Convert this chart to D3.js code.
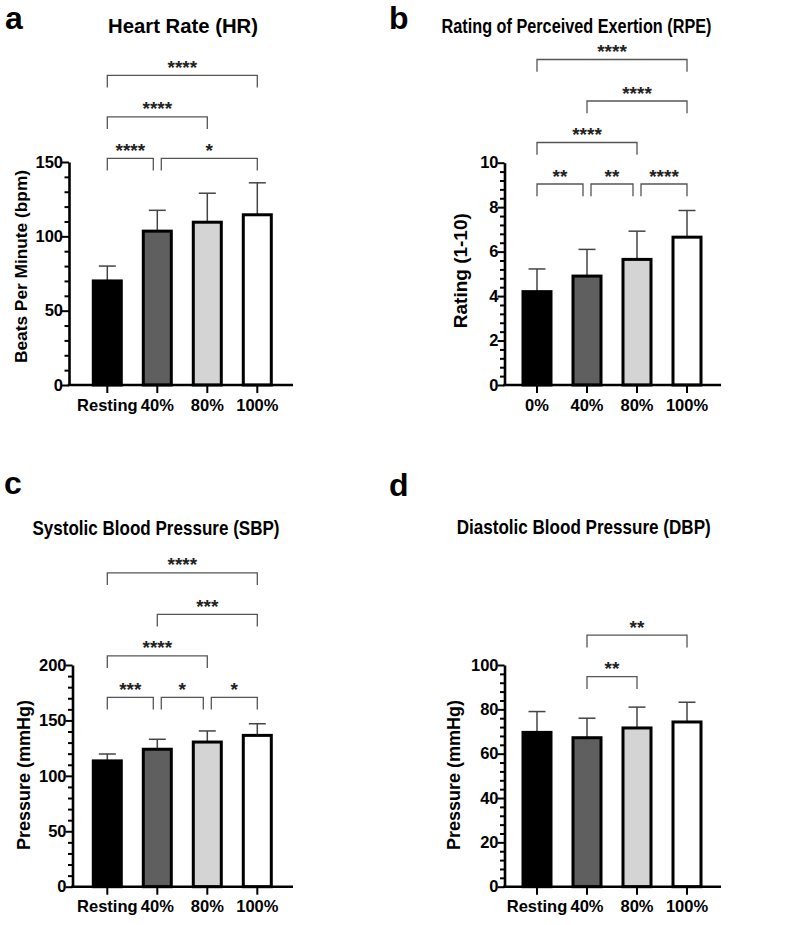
<!DOCTYPE html>
<html><head><meta charset="utf-8">
<script src="https://cdn.jsdelivr.net/npm/d3@7"></script>
<style>
body{margin:0;background:#fff}
svg{display:block}
text{font-family:"Liberation Sans",Arial,Helvetica,sans-serif;font-weight:bold;fill:#000}
</style>
</head><body>
<svg id="chart" width="792" height="925"></svg>
<script>
// ---------- DATA ----------
const hrCategories = ["Resting", "40%", "80%", "100%"];
const hrMeans = [70, 103.5, 109.5, 114.5];
const hrSD = [10, 14, 19.5, 21.5];
const hrTicks = [0, 50, 100, 150];
const hrComparisons = [["Resting", "40%", "****", 0], ["40%", "100%", "*", 0], ["Resting", "80%", "****", 1], ["Resting", "100%", "****", 2]];

const rpeCategories = ["0%", "40%", "80%", "100%"];
const rpeMeans = [4.2, 4.9, 5.65, 6.65];
const rpeSD = [1.02, 1.2, 1.27, 1.2];
const rpeTicks = [0, 2, 4, 6, 8, 10];
const rpeComparisons = [["0%", "40%", "**", 0], ["40%", "80%", "**", 0], ["80%", "100%", "****", 0], ["0%", "80%", "****", 1], ["40%", "100%", "****", 2], ["0%", "100%", "****", 3]];

const sbpCategories = ["Resting", "40%", "80%", "100%"];
const sbpMeans = [113.5, 124, 130.5, 136.5];
const sbpSD = [6.2, 9, 10, 10.5];
const sbpTicks = [0, 50, 100, 150, 200];
const sbpComparisons = [["Resting", "40%", "***", 0], ["40%", "80%", "*", 0], ["80%", "100%", "*", 0], ["Resting", "80%", "****", 1], ["40%", "100%", "***", 2], ["Resting", "100%", "****", 3]];

const dbpCategories = ["Resting", "40%", "80%", "100%"];
const dbpMeans = [69.6, 67.2, 71.6, 74.3];
const dbpSD = [9.4, 8.8, 9.4, 8.9];
const dbpTicks = [0, 20, 40, 60, 80, 100];
const dbpComparisons = [["40%", "80%", "**", 0], ["40%", "100%", "**", 1]];

const barFills = ["#000000", "#5f5f5f", "#d4d4d4", "#ffffff"];
const panelLetters = ["a", "b", "c", "d"];
const panelTitles = ["Heart Rate (HR)", "Rating of Perceived Exertion (RPE)", "Systolic Blood Pressure (SBP)", "Diastolic Blood Pressure (DBP)"];
const yTitles = ["Beats Per Minute (bpm)", "Rating (1-10)", "Pressure (mmHg)", "Pressure (mmHg)"];

// ---------- LAYOUT ----------
const panels = [
  {cats: hrCategories, means: hrMeans, sd: hrSD, ticks: hrTicks, minor: 10, comps: hrComparisons,
   axisX: 69, axisRight: 293, firstC: 107.3, yTop: 162, yBot: 385, bracket0: 158.3,
   letter: {x: 5, y: 29}, title: {x: 108, y: 32.5, len: 150}, ytitle: {x: 27, y: 266.5, len: 193, size: 17}},
  {cats: rpeCategories, means: rpeMeans, sd: rpeSD, ticks: rpeTicks, minor: 0.4, comps: rpeComparisons,
   axisX: 504.5, axisRight: 721, firstC: 537, yTop: 162.7, yBot: 385, bracket0: 184,
   letter: {x: 389, y: 29}, title: {x: 441.5, y: 33.3, len: 270}, ytitle: {x: 467, y: 270.7, len: 115, size: 19}},
  {cats: sbpCategories, means: sbpMeans, sd: sbpSD, ticks: sbpTicks, minor: 10, comps: sbpComparisons,
   axisX: 72.5, axisRight: 293, firstC: 107.3, yTop: 665, yBot: 886.7, bracket0: 697.3,
   letter: {x: 4, y: 494}, title: {x: 32.5, y: 535, len: 247}, ytitle: {x: 29.5, y: 775, len: 150, size: 18}},
  {cats: dbpCategories, means: dbpMeans, sd: dbpSD, ticks: dbpTicks, minor: 4, comps: dbpComparisons,
   axisX: 504.5, axisRight: 721, firstC: 537, yTop: 665, yBot: 886.7, bracket0: 676.7,
   letter: {x: 389, y: 496}, title: {x: 456.7, y: 534, len: 254}, ytitle: {x: 459.5, y: 775, len: 150, size: 18}}
];

const svg = d3.select("#chart");
const STEP = 50, LEVEL_GAP = 41.5, DROP = 12.3, SHARE_OFF = 4;

panels.forEach((p, pi) => {
  const g = svg.append("g");
  const maxV = p.ticks[p.ticks.length - 1];
  const y = d3.scaleLinear().domain([0, maxV]).range([p.yBot, p.yTop]);
  const x = d3.scaleBand().domain(p.cats)
    .range([p.firstC - STEP / 2, p.firstC - STEP / 2 + STEP * p.cats.length])
    .paddingInner(0.44).paddingOuter(0.22);
  const cx = c => x(c) + x.bandwidth() / 2;

  // panel letter and title
  g.append("text").attr("x", p.letter.x).attr("y", p.letter.y)
    .style("font-size", "32px").text(panelLetters[pi]);
  g.append("text").attr("x", p.title.x).attr("y", p.title.y)
    .style("font-size", "21px").attr("textLength", p.title.len).attr("lengthAdjust", "spacingAndGlyphs")
    .text(panelTitles[pi]);
  g.append("text").attr("transform", `translate(${p.ytitle.x},${p.ytitle.y}) rotate(-90)`)
    .attr("text-anchor", "middle").style("font-size", p.ytitle.size + "px")
    .attr("textLength", p.ytitle.len).attr("lengthAdjust", "spacingAndGlyphs")
    .text(yTitles[pi]);

  // error bars
  const data = p.cats.map((c, i) => ({c, m: p.means[i], s: p.sd[i], fill: barFills[i]}));
  const eb = g.append("g").attr("stroke", "#444").attr("stroke-width", 1.5).attr("fill", "none");
  eb.selectAll(".stem").data(data).join("line")
    .attr("x1", d => cx(d.c)).attr("x2", d => cx(d.c))
    .attr("y1", d => y(d.m)).attr("y2", d => y(d.m + d.s));
  eb.selectAll(".cap").data(data).join("line")
    .attr("x1", d => cx(d.c) - 8.5).attr("x2", d => cx(d.c) + 8.5)
    .attr("y1", d => y(d.m + d.s)).attr("y2", d => y(d.m + d.s));

  // bars
  g.append("g").selectAll("rect").data(data).join("rect")
    .attr("x", d => x(d.c)).attr("width", x.bandwidth())
    .attr("y", d => y(d.m)).attr("height", d => y(0) - y(d.m))
    .attr("fill", d => d.fill).attr("stroke", "#000").attr("stroke-width", 3);

  // y axis major
  const yAx = g.append("g").attr("transform", `translate(${p.axisX},0)`)
    .call(d3.axisLeft(y).tickValues(p.ticks).tickSize(7).tickSizeOuter(0).tickPadding(-1).tickFormat(d3.format("d")));
  yAx.select(".domain").attr("stroke-width", 2.6);
  yAx.selectAll(".tick line").attr("stroke-width", 2);
  yAx.selectAll(".tick text").style("font-size", "16.5px").style("font-family", "'Liberation Sans',Arial,sans-serif").style("font-weight", "bold");
  // y axis minor
  const minorVals = d3.range(0, Math.round(maxV / p.minor) + 1).map(k => k * p.minor)
    .filter(v => !p.ticks.some(t => Math.abs(t - v) < 1e-6));
  const yMin = g.append("g").attr("transform", `translate(${p.axisX},0)`)
    .call(d3.axisLeft(y).tickValues(minorVals).tickSize(4.5).tickFormat(""));
  yMin.select(".domain").remove();
  yMin.selectAll(".tick line").attr("stroke-width", 2);

  // x axis
  g.append("line").attr("x1", p.axisX - 1.3).attr("x2", p.axisRight).attr("y1", y(0)).attr("y2", y(0))
    .attr("stroke", "#000").attr("stroke-width", 2.6);
  const xAx = g.append("g").attr("transform", `translate(0,${y(0)})`)
    .call(d3.axisBottom(x).tickSize(8).tickSizeOuter(0).tickPadding(6));
  xAx.select(".domain").remove();
  xAx.selectAll(".tick line").attr("stroke-width", 2);
  xAx.selectAll(".tick text").style("font-size", "16.5px").style("font-family", "'Liberation Sans',Arial,sans-serif").style("font-weight", "bold");

  // significance brackets
  const bg = g.append("g");
  p.comps.forEach(([a, b, lab, lvl]) => {
    const same = p.comps.filter(q => q[3] === lvl);
    const leftShared = same.some(q => q[1] === a);
    const rightShared = same.some(q => q[0] === b);
    const x1 = cx(a) + (leftShared ? SHARE_OFF : 0);
    const x2 = cx(b) - (rightShared ? SHARE_OFF : 0);
    const yy = p.bracket0 - lvl * LEVEL_GAP;
    bg.append("path")
      .attr("d", `M${x1},${yy + DROP}V${yy}H${x2}V${yy + DROP}`)
      .attr("fill", "none").attr("stroke", "#555").attr("stroke-width", 1.3);
    bg.append("text").attr("x", (x1 + x2) / 2).attr("y", yy - 1.5)
      .attr("text-anchor", "middle").style("font-size", "19px").style("fill", "#222")
      .text(lab);
  });
});
</script>
</body></html>
